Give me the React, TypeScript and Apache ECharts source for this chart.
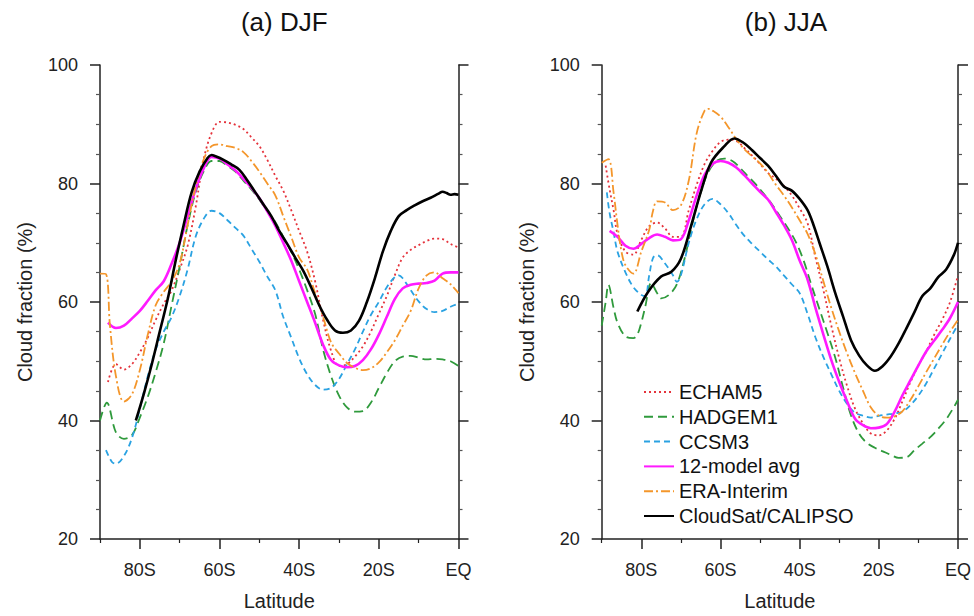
import React, { useEffect, useRef } from "react";
import * as echarts from "echarts";

// ---------- ticks ----------
const LAT_MAJOR = [-80, -60, -40, -20, 0];
const LAT_MINOR = [-90, -70, -50, -30, -10];
const Y_MIN = 20;
const Y_MAX = 100;

const SERIES_NAMES = ["ECHAM5", "HADGEM1", "CCSM3", "12-model avg", "ERA-Interim", "CloudSat/CALIPSO"];
const PANEL_TITLES = ["(a) DJF", "(b) JJA"];

// ---------- DJF data: [latitude, cloud fraction %] ----------
const djfEcham5 = [[-88,46.5],[-86,49.5],[-84,48.6],[-82,49.5],[-80,51.5],[-78,54],[-76,57],[-74,59.7],[-72,62],[-70,65.5],[-68,69.5],[-66,76],[-64,84],[-62,88.5],[-60,90.4],[-58,90.3],[-56,89.9],[-54,89.2],[-52,87.8],[-50,86.3],[-48,84],[-46,81.3],[-44,78.8],[-42,75.5],[-40,72],[-38,68.5],[-36,63.5],[-34,57],[-32,51.8],[-30,49.2],[-28,49.5],[-26,50.8],[-24,52.5],[-22,55],[-20,58],[-18,61],[-16,64.5],[-14,67.5],[-12,68.8],[-10,69.6],[-8,70.3],[-6,70.7],[-4,70.6],[-2,69.8],[0,69.2]];
const djfHadgem1 = [[-90,40],[-88.3,43],[-86,38],[-84,36.9],[-82,37.5],[-80,40.5],[-78,44],[-76,48.2],[-74,53],[-72,59.5],[-70,66],[-68,73],[-66,78.5],[-64,82],[-62,83.8],[-60,83.8],[-58,83],[-56,82],[-54,80.5],[-52,79],[-50,77.3],[-48,75.3],[-46,73.5],[-44,71],[-42,68.5],[-40,65.5],[-38,62],[-36,58],[-34,52],[-32,47.5],[-30,44.2],[-28,42.2],[-26,41.5],[-24,41.6],[-22,43],[-20,45.5],[-18,48],[-16,50],[-14,50.8],[-12,50.9],[-10,50.6],[-8,50.3],[-6,50.4],[-4,50.3],[-2,50],[0,49.2]];
const djfCcsm3 = [[-88.5,35],[-87,33],[-86,32.7],[-84,34],[-82,37],[-80,42],[-78,47.5],[-76,52],[-74,55],[-72,57.5],[-70,61],[-68,65.5],[-66,71],[-64,74],[-62,75.4],[-60,75],[-58,73.8],[-56,72.5],[-54,71.2],[-52,69],[-50,66.8],[-48,64.3],[-46,62],[-44,57.5],[-42,54],[-40,50.5],[-38,47.8],[-36,46],[-34,45.2],[-32,45.5],[-30,47],[-28,49.5],[-26,52],[-24,55],[-22,57.8],[-20,60],[-18,62.5],[-16,64.2],[-15,64.5],[-14,64],[-12,62],[-10,60.1],[-8,58.8],[-6,58.3],[-4,58.5],[-2,59.2],[0,59.7]];
const djfAvg = [[-88,56.5],[-86,55.6],[-84,56],[-82,57.2],[-80,58.5],[-78,60.2],[-76,62],[-74,63.5],[-72,66.5],[-70,70],[-68,74.5],[-66,79],[-64,82.5],[-62,84.5],[-60,84.2],[-58,83.2],[-56,82.2],[-54,80.8],[-52,79.3],[-50,77.5],[-48,75.3],[-46,72.9],[-44,70],[-42,67],[-40,63.5],[-38,60],[-36,56.5],[-34,52.8],[-32,50.2],[-30,49.3],[-28,49],[-26,49.2],[-24,50.2],[-22,52],[-20,54.5],[-18,57.5],[-16,60.5],[-14,62.3],[-12,62.9],[-10,63.1],[-8,63.2],[-6,63.6],[-4,64.8],[-2,65],[0,65]];
const djfEra = [[-90,64.8],[-88.5,64.7],[-87.5,56],[-86,47.5],[-84,43.2],[-82,44.4],[-80,48.5],[-78,54.5],[-76,59.5],[-74,61.7],[-72,63.5],[-70,66.5],[-68,73],[-66,79.5],[-64,84],[-62,86.3],[-60,86.6],[-58,86.3],[-56,86],[-54,85.3],[-52,83.8],[-50,82],[-48,80],[-46,78],[-44,74.5],[-42,71],[-40,67.5],[-38,65.5],[-36,61.5],[-34,57.5],[-32,53.2],[-30,51.3],[-28,49.7],[-26,48.9],[-24,48.5],[-22,48.8],[-20,49.8],[-18,51.5],[-16,53.5],[-14,56],[-12,58.5],[-10,62.3],[-8,64.5],[-6,65],[-4,64],[-2,63],[0,61.5]];
const djfObs = [[-81,40],[-79,44.5],[-77,49.5],[-75,55],[-73,60.5],[-71,67],[-69,73],[-67,78.5],[-65,82],[-63,84.3],[-62,84.8],[-61,84.6],[-59,84],[-57,83.2],[-55,82.3],[-53,80.5],[-51,78.5],[-49,76.5],[-47,74.5],[-45,72],[-43,69.8],[-41,67.5],[-39,65.3],[-37,62.5],[-35,59.5],[-33,57],[-31,55.2],[-29,54.8],[-27,55.2],[-25,56.8],[-23,60],[-21,64],[-19,68.5],[-17,72],[-15,74.5],[-13,75.5],[-11,76.3],[-9,77],[-7,77.6],[-5,78.3],[-4,78.6],[-3,78.4],[-2,78.1],[-1,78.2],[0,78.1]];

// ---------- JJA data ----------
const jjaEcham5 = [[-89,83],[-88,79],[-87,75.5],[-86,71.5],[-84,68.5],[-82,68],[-80,70.5],[-78,72.8],[-76,73.4],[-74,72.4],[-72,71],[-70,71],[-68,75.5],[-66,79.8],[-64,83.3],[-62,85.5],[-60,87],[-58,87.4],[-56,87.2],[-54,86],[-52,84.7],[-50,83.3],[-48,81.8],[-46,80.8],[-44,79.6],[-42,78],[-40,75.8],[-38,73.3],[-36,67.5],[-34,62],[-32,56],[-30,50.5],[-28,45.8],[-26,42],[-24,39.5],[-22,37.8],[-20,37.5],[-18,38.3],[-16,40.3],[-14,43.3],[-12,46.5],[-10,49.3],[-8,51.7],[-6,54.5],[-4,57],[-2,60],[0,64.5]];
const jjaHadgem1 = [[-90,56],[-89,60],[-88.3,62.9],[-87,59],[-86,56.5],[-84,54.2],[-82,53.9],[-81,54.5],[-80,56.5],[-79,59.2],[-77.5,63.2],[-76,61.5],[-75,60.6],[-73,61.2],[-71,63],[-69,67.5],[-67,73.5],[-65,78.5],[-63,82],[-61,83.8],[-59,84.2],[-57,83.8],[-55,82.6],[-53,81.2],[-51,79.8],[-49,78.2],[-47,76.5],[-45,74.5],[-43,72.5],[-41,70.2],[-39,67],[-37,62.8],[-35,58.8],[-33,54.8],[-31,50.6],[-29,45.5],[-27,40.8],[-25,37.8],[-23,36.2],[-21,35.4],[-19,34.8],[-17,34.2],[-15,33.7],[-13,33.8],[-11,35],[-9,36.1],[-7,37.2],[-5,38.6],[-3,40.2],[-1,42.3],[0,43.5]];
const jjaCcsm3 = [[-88.7,78.5],[-88,75],[-87,71.8],[-86,68.5],[-84,65],[-82,62.5],[-80,61.2],[-79,61],[-78,64.5],[-77,67.5],[-76,67.9],[-74,66.5],[-72,64.5],[-71,63.4],[-70,64.5],[-68,70],[-66,74],[-64,76.5],[-62,77.4],[-60,76.5],[-58,75],[-56,73],[-54,71.2],[-52,69.8],[-50,68.5],[-48,67.2],[-46,66],[-44,64.5],[-42,63],[-40,61.5],[-38,58],[-36,54],[-34,50.7],[-32,47.8],[-30,45],[-28,42.8],[-26,41.3],[-24,40.8],[-22,40.5],[-20,40.8],[-18,41],[-16,41.2],[-14,41.5],[-12,42.6],[-10,44.2],[-8,46.3],[-6,48.8],[-4,51.3],[-2,53.8],[0,56.2]];
const jjaAvg = [[-88,72],[-86,71],[-84,69.5],[-82,69],[-80,69.8],[-78,70.8],[-76,71.4],[-74,71],[-72,70.4],[-70,70.6],[-68,73.8],[-66,78],[-64,81.5],[-62,83.3],[-60,83.8],[-58,83.5],[-56,82.7],[-54,81.4],[-52,80],[-50,78.6],[-48,77.3],[-46,75.2],[-44,73],[-42,70.5],[-40,67],[-38,63.8],[-36,59],[-34,54.5],[-32,50.2],[-30,46.5],[-28,43.2],[-26,40.3],[-24,39.2],[-22,38.7],[-20,38.8],[-18,39.4],[-16,41.5],[-14,44.3],[-12,46.8],[-10,49.3],[-8,51.7],[-6,53.5],[-4,55.3],[-2,57.3],[0,60]];
const jjaEra = [[-90,83.5],[-88.3,84.1],[-87,78.5],[-86,73],[-85,68.5],[-84,66.2],[-82,64.8],[-80,68.5],[-78,72.2],[-77,75.5],[-76,77],[-74,76.8],[-72,75.5],[-70,76.3],[-68,80.5],[-66,88.5],[-64,92.3],[-63,92.6],[-62,92.3],[-60,91.3],[-58,89.5],[-56,87.5],[-54,85.8],[-52,84.6],[-50,83.4],[-48,81.8],[-46,79.8],[-44,78],[-42,76],[-40,73.8],[-38,71.5],[-36,68],[-34,63.5],[-32,59],[-30,55],[-28,51.3],[-26,48],[-24,45],[-22,42.2],[-20,40.8],[-18,40.5],[-16,40.7],[-14,41.6],[-12,43.5],[-10,45.8],[-8,48.2],[-6,50.5],[-4,52.8],[-2,55],[0,57]];
const jjaObs = [[-81,58.4],[-78.3,61.7],[-75,64.3],[-72.4,65.1],[-70,67.3],[-67.4,72.9],[-65,78.5],[-62.4,83.5],[-59,86.3],[-56.5,87.6],[-54,86.8],[-52,85.6],[-50,84.3],[-48,83],[-46,81.3],[-44,79.5],[-42,78.8],[-40,77.4],[-38,75.5],[-36.5,73],[-35,70],[-33,66],[-31,61.5],[-29,57.5],[-27,53.5],[-25,51],[-23,49.3],[-21,48.4],[-19,49.2],[-17,50.8],[-15,53],[-13,55.6],[-11,58.3],[-9,61],[-7,62.3],[-5,64.2],[-3,65.5],[-1,68],[0,70]];

const PANEL_DATA = [
  [djfEcham5, djfHadgem1, djfCcsm3, djfAvg, djfEra, djfObs],
  [jjaEcham5, jjaHadgem1, jjaCcsm3, jjaAvg, jjaEra, jjaObs],
];

const STYLES = [
  { color: "#e5323b", width: 1.8, type: [2, 3] as any },
  { color: "#2f9a3c", width: 1.8, type: [9, 5] as any },
  { color: "#2aa2e2", width: 1.8, type: [6, 4] as any },
  { color: "#ff1aff", width: 2.6, type: "solid" as any },
  { color: "#f4962b", width: 1.8, type: [9, 3, 2, 3] as any },
  { color: "#000000", width: 2.6, type: "solid" as any },
];

const FONT = "'Liberation Sans', Arial, Helvetica, sans-serif";
const AX = "#222";

const GRIDS = [
  { left: 100, top: 65, width: 358.5, height: 477.7 },
  { left: 601.7, top: 65, width: 358.5, height: 477.7 },
];

const latLabel = (v: number) => (v === 0 ? "EQ" : `${Math.abs(Math.round(v))}S`);

export default function App() {
  const ref = useRef<HTMLDivElement>(null);
  useEffect(() => {
    if (!ref.current) return;
    const chart = echarts.init(ref.current, undefined, { renderer: "svg" });

    const xAxes: any[] = [];
    const yAxes: any[] = [];
    GRIDS.forEach((_, g) => {
      xAxes.push({
        gridIndex: g,
        type: "value",
        min: -90,
        max: 0,
        position: "bottom",
        axisLine: { show: true, onZero: false, lineStyle: { color: AX, width: 1.5 } },
        axisTick: { show: true, inside: false, length: 10, customValues: LAT_MAJOR, lineStyle: { color: AX, width: 1.5 } },
        axisLabel: { show: true, customValues: LAT_MAJOR, formatter: latLabel, margin: 22, fontSize: 18, color: AX, fontFamily: FONT },
        splitLine: { show: false },
        name: "Latitude",
        nameLocation: "middle",
        nameGap: 52,
        nameTextStyle: { fontSize: 20, color: AX, fontFamily: FONT },
      });
      xAxes.push({
        gridIndex: g,
        type: "value",
        min: -90,
        max: 0,
        position: "bottom",
        axisLine: { show: false, onZero: false },
        axisTick: { show: true, inside: false, length: 4, customValues: LAT_MINOR, lineStyle: { color: AX, width: 1.2 } },
        axisLabel: { show: false, customValues: LAT_MINOR },
        splitLine: { show: false },
      });
      const yBase = {
        gridIndex: g,
        type: "value",
        min: Y_MIN,
        max: Y_MAX,
        interval: 20,
        splitLine: { show: false },
        axisLine: { show: true, onZero: false, lineStyle: { color: AX, width: 1.5 } },
        axisTick: { show: true, inside: false, length: 10, lineStyle: { color: AX, width: 1.5 } },
        minorTick: { show: true, splitNumber: 4, length: 4, lineStyle: { color: "#555", width: 1.2 } },
      };
      yAxes.push({
        ...yBase,
        position: "left",
        axisLabel: { show: true, margin: 22, fontSize: 18, color: AX, fontFamily: FONT },
        name: "Cloud fraction (%)",
        nameLocation: "middle",
        nameGap: 65,
        nameRotate: 90,
        nameTextStyle: { fontSize: 20, color: AX, fontFamily: FONT },
      });
      yAxes.push({
        ...yBase,
        position: "right",
        axisLabel: { show: false },
      });
    });

    const series: any[] = [];
    PANEL_DATA.forEach((panel, g) => {
      panel.forEach((data, i) => {
        const s = STYLES[i];
        series.push({
          name: SERIES_NAMES[i],
          type: "line",
          xAxisIndex: g * 2,
          yAxisIndex: g * 2,
          data,
          symbol: "none",
          smooth: 0.35,
          lineStyle: { color: s.color, width: s.width, type: s.type },
          itemStyle: { color: "rgba(0,0,0,0)", borderWidth: 0 },
          z: 2 + i,
        });
      });
    });

    chart.setOption({
      animation: false,
      backgroundColor: "#ffffff",
      textStyle: { fontFamily: FONT },
      title: PANEL_TITLES.map((t, g) => ({
        text: t,
        left: GRIDS[g].left + GRIDS[g].width / 2,
        top: 4,
        textAlign: "center",
        textStyle: { fontSize: 26, fontWeight: "normal", color: "#111", fontFamily: FONT },
      })),
      legend: {
        show: true,
        orient: "vertical",
        left: 638,
        top: 377,
        itemWidth: 30,
        itemHeight: 14,
        itemGap: 4.8,
        data: SERIES_NAMES,
        itemStyle: { color: "rgba(0,0,0,0)", borderWidth: 0 },
        textStyle: { fontSize: 20, color: "#111", fontFamily: FONT, lineHeight: 20 },
      },
      grid: GRIDS.map((g) => ({ ...g, containLabel: false })),
      xAxis: xAxes,
      yAxis: yAxes,
      series,
    });

    return () => chart.dispose();
  }, []);

  return (
    <div
      ref={ref}
      style={{ position: "fixed", left: 0, top: 0, width: 974, height: 616, background: "#fff" }}
    />
  );
}
